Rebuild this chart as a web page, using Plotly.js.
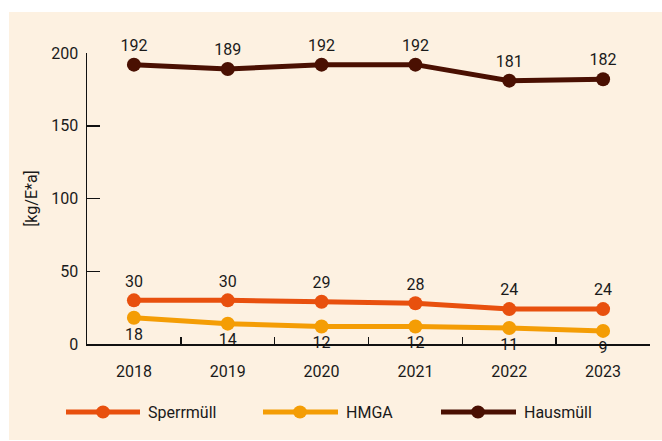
<!DOCTYPE html>
<html>
<head>
<meta charset="utf-8">
<script src="https://cdn.plot.ly/plotly-3.0.1.min.js"></script>
<style>html,body{margin:0;padding:0;background:#fff;}#chart{width:662px;height:441px;}</style>
</head>
<body>
<div id="chart"></div>
<script>
const years = ['2018', '2019', '2020', '2021', '2022', '2023'];
const sperrmuell = [30, 30, 29, 28, 24, 24];
const hmga = [18, 14, 12, 12, 11, 9];
const hausmuell = [192, 189, 192, 192, 181, 182];
const seriesNames = ['Sperrmüll', 'HMGA', 'Hausmüll'];
const yTicks = [0, 50, 100, 150, 200];
const yTitle = '[kg/E*a]';

const colors = ['#E8500E', '#F49D05', '#4A1002'];
const bg = '#FDF1E1';
const txt = '#1a1a1a';
const FONT = 'Roboto, sans-serif';

function trace(y, name, color, pos) {
  return {
    x: years, y: y, name: name, type: 'scatter', mode: 'lines+markers+text',
    line: {color: color, width: 5},
    marker: {color: color, size: 14},
    text: y.map(String), textposition: pos,
    textfont: {family: FONT, size: 16, color: txt},
    cliponaxis: false, showlegend: false, hoverinfo: 'skip'
  };
}

const data = [
  trace(sperrmuell, seriesNames[0], colors[0], 'top center'),
  trace(hmga, seriesNames[1], colors[1], 'bottom center'),
  trace(hausmuell, seriesNames[2], colors[2], 'top center')
];

// plot area: x 87..650 px, y 53..344 px
const L = 87, R = 650, T = 53, B = 344;
const px = v => (v - L) / (R - L);
const py = v => (B - v) / (B - T);

const shapes = [{
  type: 'rect', xref: 'paper', yref: 'paper', layer: 'below',
  x0: px(9), x1: px(680), y0: py(440), y1: py(12),
  fillcolor: bg, line: {width: 0}
}];
const annotations = [];
const legendItems = [
  {x0: 66, x1: 140, m: 103, t: 146},
  {x0: 263, x1: 338, m: 300, t: 344},
  {x0: 441, x1: 516, m: 478, t: 522}
];
const ly = py(412);
legendItems.forEach((it, i) => {
  shapes.push({type: 'line', xref: 'paper', yref: 'paper', x0: px(it.x0), x1: px(it.x1), y0: ly, y1: ly,
    line: {color: colors[i], width: 5}});
  shapes.push({type: 'circle', xref: 'paper', yref: 'paper', xsizemode: 'pixel', ysizemode: 'pixel',
    xanchor: px(it.m), yanchor: ly, x0: -7, x1: 7, y0: -6.5, y1: 6.5,
    fillcolor: colors[i], line: {width: 0}});
  annotations.push({xref: 'paper', yref: 'paper', x: px(it.t), y: ly, xanchor: 'left', yanchor: 'middle',
    text: seriesNames[i], showarrow: false, font: {family: FONT, size: 16, color: txt}});
});

const layout = {
  width: 662, height: 441,
  margin: {l: L, r: 662 - R, t: T, b: 441 - B, pad: 0},
  paper_bgcolor: '#ffffff', plot_bgcolor: 'rgba(0,0,0,0)',
  font: {family: FONT, size: 16, color: txt},
  showlegend: false,
  xaxis: {
    type: 'category', range: [-0.5, 5.5], tickson: 'boundaries',
    ticks: 'inside', ticklen: 7, tickwidth: 1.5, tickcolor: '#111',
    showline: true, linecolor: '#111', linewidth: 1.5, showgrid: false, zeroline: false,
    ticklabelstandoff: 12, tickfont: {family: FONT, size: 16, color: txt}, fixedrange: true
  },
  yaxis: {
    range: [0, 200], tickvals: yTicks, ticktext: yTicks.map(String),
    ticks: 'inside', ticklen: 13, tickwidth: 1.5, tickcolor: '#111',
    showline: true, linecolor: '#111', linewidth: 1.5, showgrid: false, zeroline: false,
    ticklabelstandoff: 4, tickfont: {family: FONT, size: 16, color: txt},
    title: {text: yTitle, font: {family: FONT, size: 16, color: txt}, standoff: 9}, fixedrange: true
  },
  shapes: shapes,
  annotations: annotations
};

Plotly.newPlot('chart', data, layout, {displayModeBar: false, staticPlot: true});
</script>
</body>
</html>
